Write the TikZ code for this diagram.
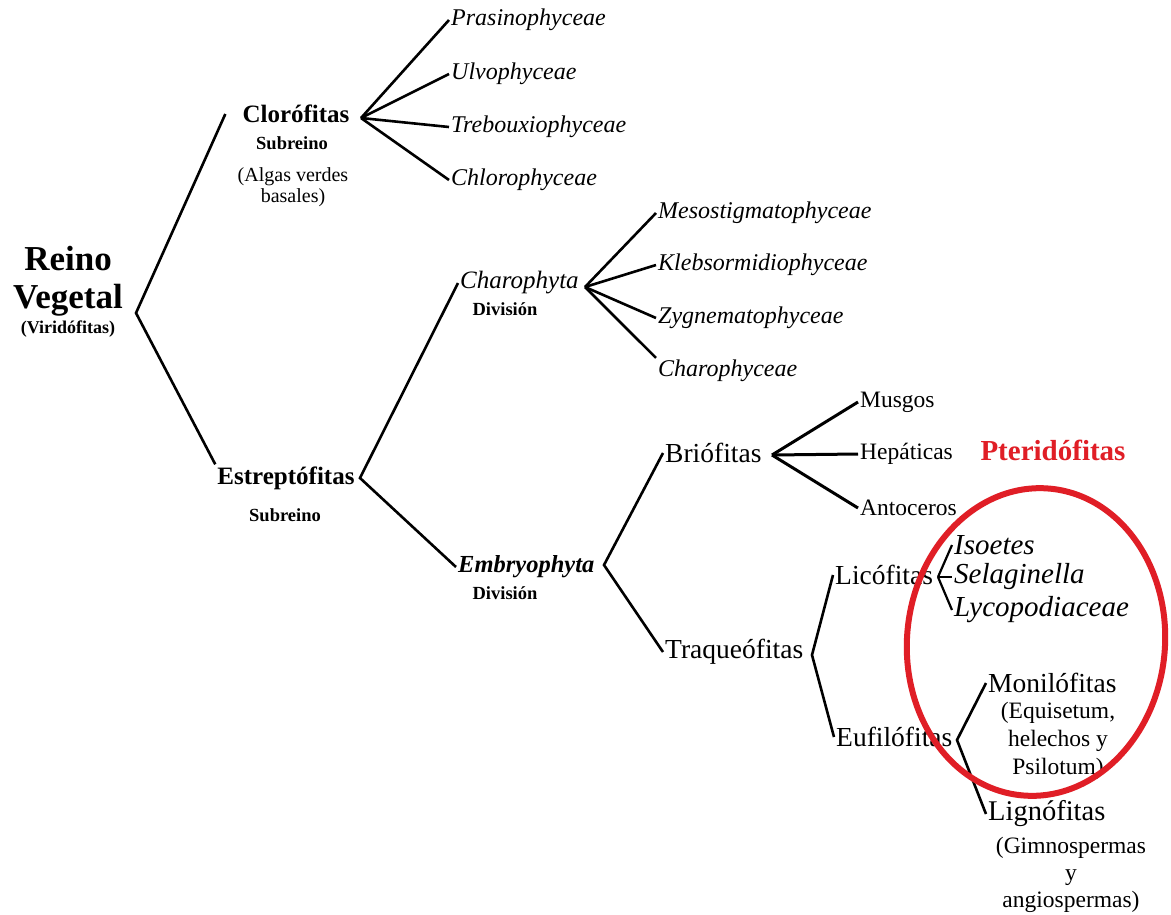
\documentclass[tikz,border=0pt]{standalone}
\usepackage{fontspec}
\setmainfont{Liberation Serif}
\definecolor{rojo}{RGB}{224,30,38}
\newcommand{\fsz}[2]{\fontsize{#1}{#2}\selectfont}

\begin{document}
\begin{tikzpicture}[x=1pt,y=-1pt,
    rama/.style={line width=2.6pt},
    hoja/.style={anchor=west,inner sep=2pt,font=\fsz{23.5}{24}},
    hojait/.style={hoja,font=\fsz{24}{24}\itshape},
    tit/.style={inner sep=2pt,font=\fsz{25}{25}\bfseries},
    sub/.style={inner sep=1pt,font=\fsz{18.5}{18}\bfseries},
    grupo/.style={anchor=west,inner sep=2pt,font=\fsz{27.5}{28}}]
    \useasboundingbox[fill=white] (0,0) rectangle (1171,914);
    % reino ==================================================
    \node[font=\fsz{35}{38}\bfseries,align=center] (reino) at (68,281) {Reino\\Vegetal};
    \node[font=\fsz{18}{18}\bfseries] (viri) at (68,329) {(Viridófitas)};
    \coordinate (reino-j) at (136,313);
    % Clorófitas =============================================
    \node[tit,inner xsep=17pt] (cloro) at (296,114) {Clorófitas};
    \node[sub] (cloro-sub) at (292,143) {Subreino};
    \node[font=\fsz{20}{21},align=center] (algas) at (293,187) {(Algas verdes\\basales)};
    \coordinate (cloro-j) at (361,118);
    \node[hojait] (prasino) at (449,20)  {Prasinophyceae};
    \node[hojait] (ulvo)    at (449,74)  {Ulvophyceae};
    \node[hojait] (trebo)   at (449,127) {Trebouxiophyceae};
    \node[hojait] (chloro)  at (449,180) {Chlorophyceae};
    % Estreptófitas ==========================================
    \node[tit] (estrep) at (286,478) {Estreptófitas};
    \node[sub] (estrep-sub) at (285,515) {Subreino};
    \coordinate (estrep-j) at (360,478);
    % Charophyta
    \node[anchor=west,inner sep=2pt,font=\fsz{25}{25}\itshape] (charo) at (458,283) {Charophyta};
    \node[sub] (charo-sub) at (505,309) {División};
    \coordinate (charo-j) at (585,287);
    \node[hojait] (meso)   at (656,213) {Mesostigmatophyceae};
    \node[hojait] (klebso) at (656,265) {Klebsormidiophyceae};
    \node[hojait] (zygne)  at (656,318) {Zygnematophyceae};
    \node[hojait] (charoph) at (656,371) {Charophyceae};
    % Embryophyta
    \node[anchor=west,inner sep=2pt,font=\fsz{24.5}{24}\bfseries\itshape] (embryo) at (456,567) {Embryophyta};
    \node[sub] (embryo-sub) at (505,593) {División};
    \coordinate (embryo-j) at (604,565);
    % Briófitas
    \node[grupo] (brio) at (663,453) {Briófitas};
    \coordinate (brio-j) at (772,455);
    \node[hoja] (musgos) at (858,402) {Musgos};
    \node[hoja] (hepat)  at (858,454) {Hepáticas};
    \node[hoja] (antoc)  at (858,508) {Antoceros};
    \node[font=\fsz{29}{29}\bfseries,text=rojo] (pteri) at (1053,450) {Pteridófitas};
    % Traqueófitas
    \node[grupo] (traq) at (663,652) {Traqueófitas};
    \coordinate (traq-j) at (812,655);
    \node[grupo] (lico) at (833,575) {Licófitas};
    \coordinate (lico-j) at (938,577);
    \node[hojait,font=\fsz{29}{29}\itshape] (isoetes) at (952,545) {Isoetes};
    \node[hojait,font=\fsz{29}{29}\itshape] (selag)   at (952,577) {Selaginella};
    \node[hojait,font=\fsz{29}{29}\itshape] (lycopo)  at (952,610) {Lycopodiaceae};
    \node[grupo] (eufi) at (834,737) {Eufilófitas};
    \coordinate (eufi-j) at (957,740);
    \node[grupo] (moni) at (986,683) {Monilófitas};
    \node[font=\fsz{23.5}{28},align=center] (moni-txt) at (1058,741) {(Equisetum,\\helechos y\\Psilotum)};
    \node[grupo,font=\fsz{28.5}{28}] (ligno) at (986,814) {Lignófitas};
    \node[font=\fsz{23.5}{27},align=center] (ligno-txt) at (1071,875) {(Gimnospermas\\y\\angiospermas)};
    % ramas ==================================================
    \draw[rama] (cloro.west) -- (reino-j) -- (estrep.north west);
    \foreach \h in {prasino,ulvo,trebo,chloro}
        \draw[rama] (cloro-j) -- (\h.west);
    \draw[rama] (charo.west) -- (estrep-j) -- (embryo.west);
    \draw[rama] (charo-j) -- (meso.west);
    \draw[rama] (charo-j) -- (klebso.west);
    \draw[rama] (charo-j) -- (zygne.west);
    \draw[rama] (charo-j) -- (charoph.north west);
    \draw[rama] (brio.west) -- (embryo-j) -- (traq.west);
    \foreach \h in {musgos,hepat,antoc}
        \draw[rama,line width=3pt] (brio-j) -- (\h.west);
    \draw[rama] (lico.west) -- (traq-j) -- (eufi.west);
    \foreach \h in {isoetes,selag,lycopo}
        \draw[line width=2.2pt] (lico-j) -- (\h.west);
    \draw[rama] (moni.west) -- (eufi-j) -- (ligno.west);
    % Pteridófitas
    \draw[rojo,line width=6pt] (1036,642) ellipse [x radius=129, y radius=154, rotate=-5];
\end{tikzpicture}
\end{document}
